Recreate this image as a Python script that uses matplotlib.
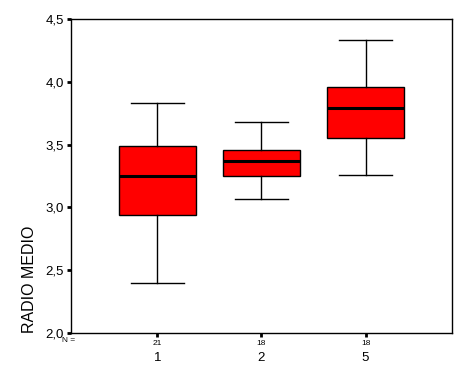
import matplotlib
matplotlib.use("Agg")
import matplotlib.pyplot as plt
import matplotlib.transforms as mtrans

plt.rcParams['font.family'] = ['Liberation Sans', 'DejaVu Sans']

# values
groups = ['1', '2', '5']
n_counts = [21, 18, 18]
medians = [3.25, 3.37, 3.79]
q1 = [2.94, 3.25, 3.55]
q3 = [3.49, 3.455, 3.96]
whislo = [2.40, 3.065, 3.255]
whishi = [3.83, 3.68, 4.33]

stats = []
for i in range(len(groups)):
    stats.append({'med': medians[i], 'q1': q1[i], 'q3': q3[i],
                  'whislo': whislo[i], 'whishi': whishi[i], 'fliers': []})

fig = plt.figure(figsize=(4.72, 3.77), dpi=100)
ax = fig.add_axes([0.1504, 0.1167, 0.8072, 0.8329])

pos = [1, 2, 3]
ax.bxp(stats, positions=pos, widths=0.74, patch_artist=True, showfliers=False,
       boxprops=dict(facecolor='#ff0000', edgecolor='black', linewidth=1.0),
       medianprops=dict(color='black', linewidth=2.2),
       whiskerprops=dict(color='black', linewidth=1.0),
       capprops=dict(color='black', linewidth=1.0),
       capwidths=0.515)

ax.set_xlim(0.17, 3.83)
ax.set_ylim(2.0, 4.5)
ax.set_yticks([2.0, 2.5, 3.0, 3.5, 4.0, 4.5])
ax.set_yticklabels(['2,0', '2,5', '3,0', '3,5', '4,0', '4,5'], fontsize=9.5)
ax.set_xticks(pos)
ax.set_xticklabels([str(n) for n in n_counts], fontsize=6)
ax.tick_params(axis='both', direction='out', length=3, width=2, pad=2)

for sp in ax.spines.values():
    sp.set_linewidth(1.0)

tr = mtrans.blended_transform_factory(ax.transData, ax.transAxes)
for p, g in zip(pos, groups):
    ax.text(p, -0.08, g, transform=tr, ha='center', va='center', fontsize=9.5)

ax.text(0.012, -0.025, 'N =', transform=ax.transAxes, ha='right', va='center', fontsize=6)

ax.set_ylabel('RADIO MEDIO', fontsize=11.5, loc='bottom', labelpad=6)

fig.savefig('out.png', dpi=100)
